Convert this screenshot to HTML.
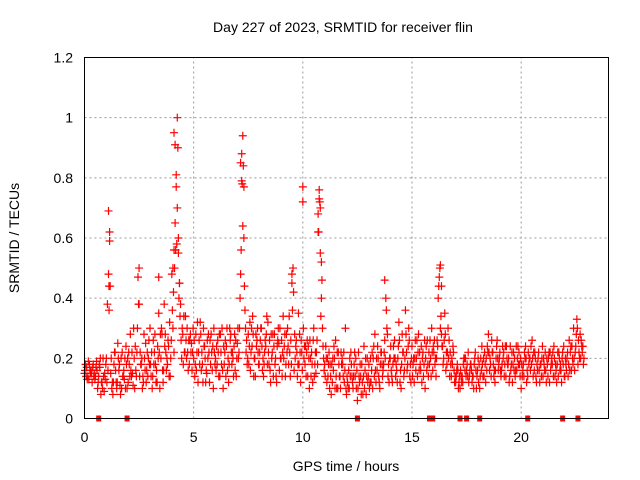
<!DOCTYPE html>
<html><head><meta charset="utf-8"><style>
body{margin:0;background:#fff}
svg{display:block;font-family:"Liberation Sans",sans-serif}
</style></head><body>
<svg id="chart" width="640" height="480">
<text x="343" y="32" text-anchor="middle" font-size="14">Day 227 of 2023, SRMTID for receiver flin</text>
<text x="346" y="471" text-anchor="middle" font-size="14">GPS time / hours</text>
<text transform="translate(19,238) rotate(-90)" text-anchor="middle" font-size="14">SRMTID / TECUs</text>
<g id="grid"></g><g id="ticks"></g><g id="marks"></g>
<rect x="84.5" y="57.5" width="524" height="361" fill="none" stroke="#000"/>
</svg>
<script>
const xTicks=[0,5,10,15,20];
const yTicks=[0,0.2,0.4,0.6,0.8,1,1.2];
const yTickLabels=["0","0.2","0.4","0.6","0.8","1","1.2"];
const seriesA=[.15,.17,.13,.16,.18,.14,.10,.17,.12,.09,
.20,.48,.15,.08,.22,.12,.18,.10,.16,.24,
.12,.28,.15,.10,.22,.38,.18,.12,.25,.14,
.30,.10,.22,.16,.35,.20,.12,.28,.18,.32,
.48,.22,.77,.55,.38,.28,.22,.30,.18,.25,
.20,.28,.12,.32,.18,.24,.15,.22,.28,.10,
.20,.26,.14,.30,.18,.24,.12,.28,.20,.16,
.25,.30,.88,.60,.22,.28,.16,.34,.20,.26,
.18,.30,.14,.24,.32,.16,.22,.28,.12,.25,
.20,.34,.14,.30,.22,.45,.16,.26,.35,.12,
.72,.18,.26,.10,.22,.30,.15,.68,.55,.30,
.18,.12,.22,.08,.16,.26,.10,.14,.20,.12,
.08,.16,.22,.10,.14,.06,.12,.18,.24,.08,
.14,.20,.10,.28,.16,.12,.22,.18,.40,.14,
.20,.12,.26,.16,.32,.10,.22,.36,.18,.14,
.24,.12,.20,.28,.16,.22,.10,.26,.18,.30,
.22,.14,.40,.30,.24,.35,.18,.26,.14,.22,
.12,.16,.10,.14,.20,.16,.12,.18,.14,.22,
.16,.10,.24,.14,.20,.28,.18,.22,.12,.26,
.20,.16,.22,.14,.18,.24,.12,.20,.16,.22,
.10,.18,.24,.14,.20,.26,.16,.12,.22,.18,
.14,.22,.18,.12,.20,.24,.16,.14,.18,.22,
.14,.20,.26,.16,.30,.24,.18,.28,.22];
const seriesB=[.18,.14,.16,.12,.15,.19,.14,.08,.20,.13,
.38,.62,.10,.18,.12,.20,.08,.14,.20,.10,
.18,.14,.30,.16,.47,.22,.10,.20,.16,.26,
.14,.26,.18,.24,.10,.28,.38,.16,.24,.20,
.30,.65,1.0,.45,.20,.34,.26,.16,.28,.22,
.14,.22,.26,.16,.30,.12,.20,.26,.16,.22,
.24,.14,.22,.10,.26,.16,.30,.18,.24,.14,
.20,.48,.94,.36,.18,.24,.30,.14,.28,.22,
.26,.16,.22,.34,.18,.28,.14,.20,.26,.30,
.14,.24,.28,.18,.26,.50,.20,.14,.28,.22,
.20,.14,.24,.20,.12,.18,.26,.76,.40,.20,
.24,.14,.18,.12,.20,.10,.18,.22,.14,.30,
.12,.20,.14,.18,.10,.22,.14,.08,.16,.20,
.10,.16,.24,.12,.20,.18,.14,.26,.30,.12,
.16,.24,.14,.20,.12,.28,.16,.22,.30,.12,
.18,.26,.14,.22,.12,.18,.24,.14,.20,.16,
.18,.26,.47,.28,.20,.16,.30,.22,.18,.12,
.16,.12,.14,.18,.20,.14,.16,.12,.18,.10,
.12,.20,.14,.18,.24,.16,.26,.14,.20,.16,
.16,.24,.18,.20,.12,.18,.22,.16,.24,.14,
.14,.22,.12,.18,.24,.14,.20,.16,.12,.20,
.18,.12,.20,.16,.22,.14,.18,.20,.12,.24,
.18,.14,.22,.20,.16,.33,.22,.26,.18];
const seriesC=[.16,.13,.18,.15,.14,.17,.12,.20,.10,.15,
.12,.36,.20,.12,.16,.25,.11,.22,.13,.18,
.22,.16,.11,.24,.30,.14,.20,.28,.12,.20,
.18,.14,.28,.12,.22,.30,.16,.22,.26,.14,
.36,.50,.58,.40,.26,.18,.34,.22,.26,.16,
.26,.16,.22,.28,.12,.20,.26,.12,.22,.30,
.16,.22,.28,.16,.22,.30,.18,.22,.14,.26,
.30,.40,.78,.44,.26,.18,.22,.28,.14,.30,
.22,.24,.18,.28,.22,.12,.28,.18,.24,.16,
.26,.20,.18,.24,.14,.36,.28,.22,.18,.26,
.30,.24,.14,.26,.18,.14,.22,.62,.34,.24,
.14,.20,.10,.18,.24,.14,.22,.10,.18,.16,
.14,.10,.18,.14,.20,.10,.18,.12,.10,.14,
.18,.12,.20,.16,.24,.10,.18,.22,.36,.18,
.24,.18,.20,.12,.26,.18,.14,.28,.24,.18,
.14,.20,.26,.16,.24,.14,.20,.18,.26,.22,
.26,.20,.44,.34,.18,.28,.22,.14,.20,.16,
.14,.10,.16,.12,.16,.18,.14,.16,.10,.16,
.20,.14,.18,.22,.16,.22,.14,.18,.16,.20,
.22,.18,.14,.24,.20,.16,.18,.14,.20,.18,
.18,.14,.20,.22,.16,.20,.22,.18,.16,.14,
.20,.16,.14,.22,.18,.20,.12,.22,.16,.18,
.20,.22,.16,.24,.20,.28,.26,.20,.24];
const seriesD=[.14,.19,.15,.17,.13,.16,.18,.12,.14,.18,
.16,.44,.12,.22,.10,.16,.20,.14,.10,.20,
.14,.22,.20,.14,.38,.18,.14,.16,.22,.18,
.22,.18,.12,.20,.28,.16,.24,.20,.14,.26,
.42,.56,.90,.34,.30,.22,.20,.26,.22,.30,
.18,.32,.18,.22,.24,.16,.28,.18,.24,.18,
.18,.28,.18,.24,.14,.20,.26,.22,.28,.20,
.22,.56,.84,.30,.20,.32,.24,.20,.24,.18,
.30,.20,.26,.18,.26,.20,.24,.14,.30,.20,
.22,.28,.22,.34,.18,.42,.24,.18,.22,.16,
.24,.22,.20,.14,.26,.22,.18,.72,.46,.16,
.20,.18,.14,.20,.10,.22,.14,.18,.22,.10,
.10,.14,.12,.22,.16,.14,.08,.14,.20,.12,
.12,.22,.14,.20,.14,.22,.16,.20,.28,.20,
.14,.20,.18,.24,.16,.22,.20,.16,.26,.20,
.20,.16,.22,.18,.20,.26,.16,.22,.14,.24,
.20,.24,.50,.24,.26,.22,.20,.18,.24,.14,
.18,.14,.12,.20,.14,.22,.18,.14,.20,.14,
.18,.16,.20,.12,.22,.20,.22,.16,.24,.18,
.14,.20,.24,.18,.14,.22,.16,.24,.18,.20,
.16,.20,.16,.20,.18,.22,.14,.20,.18,.24,
.16,.20,.22,.18,.14,.18,.22,.16,.20,.14,
.16,.18,.24,.18,.22,.30,.20,.24,.20];
const spikeX=[1.1,1.15,1.12,4.1,4.15,4.2,4.25,4.3,4.05,4.1,4.35,7.15,7.2,7.25,7.3,9.5,10.0,10.75,10.8,10.7,10.85,13.75,16.3,16.35,2.5,3.4];
const spikeY=[.69,.59,.44,.95,.91,.81,.70,.60,.50,.56,.45,.85,.79,.64,.77,.48,.77,.73,.70,.62,.52,.46,.51,.44,.50,.47];
const zeroMarkX=[0.65,1.95,12.5,15.8,15.95,17.2,17.5,18.1,20.3,21.9,22.6];
const NS="http://www.w3.org/2000/svg";
const X0=84.5,X1=608.5,Y0=418.5,Y1=57.5;
function sx(h){return X0+(h/24)*(X1-X0);}
function sy(v){return Y0-(v/1.2)*(Y0-Y1);}
function mk(tag,at,parent){const e=document.createElementNS(NS,tag);for(const k in at)e.setAttribute(k,at[k]);parent.appendChild(e);return e;}
const grid=document.getElementById('grid'),ticks=document.getElementById('ticks'),marks=document.getElementById('marks');
xTicks.forEach(t=>{
 const x=sx(t);
 if(t>0){const g=mk('line',{x1:x,y1:Y0,x2:x,y2:Y1,stroke:'#999','stroke-dasharray':'2,3'},grid);
 
 }
 const l=mk('text',{x:x,y:442,'text-anchor':'middle','font-size':'14'},ticks);l.textContent=t;
 
 
});
yTicks.forEach((t,i)=>{
 const y=sy(t);
 if(t>0&&t<1.2){const g=mk('line',{x1:X0,y1:y,x2:X1,y2:y,stroke:'#999','stroke-dasharray':'2,3'},grid);
 
 }
 const l=mk('text',{x:73,y:y+5,'text-anchor':'end','font-size':'14'},ticks);l.textContent=yTickLabels[i];
 
 
});
function plus(h,v){
 const x=sx(h),y=sy(v);
 const p=mk('path',{d:`M${x-4},${y}H${x+4}M${x},${y-4}V${y+4}`,stroke:'#f00','stroke-width':'1.2',fill:'none'},marks);
 
 
}
seriesA.forEach((v,i)=>plus(i*0.1,v));
seriesB.forEach((v,i)=>plus(i*0.1+0.05,v));
seriesC.forEach((v,i)=>plus(i*0.1+0.025,v));
seriesD.forEach((v,i)=>plus(i*0.1+0.075,v));
spikeX.forEach((h,i)=>plus(h,spikeY[i]));
zeroMarkX.forEach(h=>{
 const r=mk('rect',{x:sx(h)-2.5,y:Y0-3,width:5,height:6,fill:'#f00'},marks);
 
 
});
</script>
</body></html>
